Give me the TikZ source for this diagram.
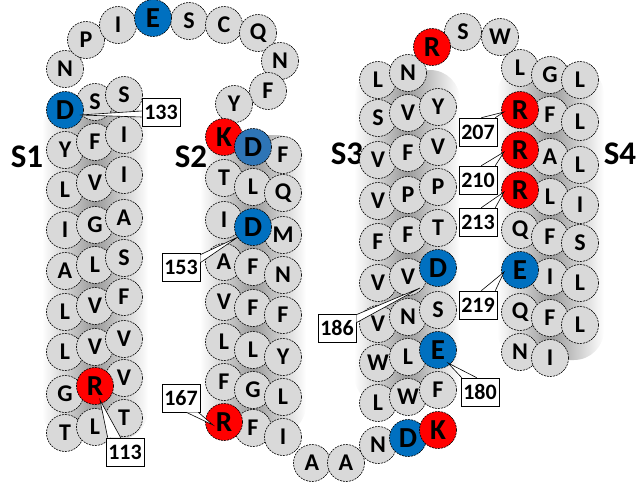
\documentclass[tikz,border=0pt]{standalone}
\usepackage{fontspec}
\setmainfont{Carlito}
\usetikzlibrary{calc}
\definecolor{resgray}{HTML}{D9D9D9}
\definecolor{resred}{HTML}{FF0000}
\definecolor{resblue}{HTML}{0070C0}
\definecolor{resbluelt}{HTML}{2E75B6}
\begin{document}
\begin{tikzpicture}[x=1pt, y=-1pt,
    res/.style={circle, draw, dash pattern=on 2pt off 1pt, line width=0.6pt, fill=resgray, minimum size=37pt, inner sep=0pt, font=\fontsize{24}{24}\selectfont\bfseries},
    acid/.style={res, fill=resblue, font=\fontsize{29}{29}\selectfont\bfseries},
    basic/.style={res, fill=resred, font=\fontsize{29}{29}\selectfont\bfseries},
    num/.style={draw, fill=white, line width=0.6pt, minimum width=38pt, minimum height=28pt, inner sep=0pt, font=\fontsize{22}{22}\selectfont\bfseries},
    callout/.style={draw, fill=white, line width=0.6pt},
    segment/.style={font=\fontsize{33}{33}\selectfont\bfseries},
    helix/.style={left color=white, right color=white, middle color=gray!80, rounded corners=30pt},
  ]
    \useasboundingbox (0,0) rectangle (638,485);
    \shade[helix] (42,100) rectangle (148,440);
    \shade[helix] (200,135) rectangle (306,435);
    \shade[helix] (354,70) rectangle (460,405);
    \shade[helix] (497,65) rectangle (604,360);

    \node[segment] (S1) at (27,157) {S1};
    \node[segment] (S2) at (191,157) {S2};
    \node[segment] (S3) at (347,154) {S3};
    \node[segment] (S4) at (620,154) {S4};

    % S1
    \node[res] (s1a2) at (65,150) {Y};   \node[res] (s1a3) at (65,190) {L};   \node[res] (s1a4) at (65,230) {I};
    \node[res] (s1a5) at (65,271) {A};   \node[res] (s1a6) at (65,312) {L};   \node[res] (s1a7) at (65,352) {L};
    \node[res] (s1a8) at (65,394) {G};   \node[res] (s1a9) at (65,433) {T};
    \node[res] (s1b1) at (95,102) {S};   \node[res] (s1b2) at (95,142) {F};   \node[res] (s1b3) at (95,183) {V};
    \node[res] (s1b4) at (95,225) {G};   \node[res] (s1b5) at (95,265) {L};   \node[res] (s1b6) at (95,306) {V};
    \node[res] (s1b7) at (95,347) {V};   \node[res] (s1b9) at (95,427) {L};
    \node[res] (s1c1) at (124,95) {S};   \node[res] (s1c2) at (124,135) {I};  \node[res] (s1c3) at (124,175) {I};
    \node[res] (s1c4) at (124,218) {A};  \node[res] (s1c5) at (124,258) {S};  \node[res] (s1c6) at (124,297) {F};
    \node[res] (s1c7) at (124,339) {V};  \node[res] (s1c8) at (124,378) {V};  \node[res] (s1c9) at (124,418) {T};
    \node[acid] (s1a1) at (65,110) {D};
    \node[basic] (s1b8) at (95,386) {R};

    % S1-S2 loop
    \node[res] (t1) at (65,69) {N};    \node[res] (t2) at (86,40) {P};    \node[res] (t3) at (118,25) {I};
    \node[res] (t5) at (189,21) {S};   \node[res] (t6) at (224,25) {C};   \node[res] (t7) at (258,33) {Q};
    \node[res] (t8) at (280,61) {N};   \node[res] (t9) at (268,91) {F};   \node[res] (t10) at (234,104) {Y};
    \node[acid] (t4) at (153,18) {E};

    % S2
    \node[res] (s2a2) at (224,178) {T};  \node[res] (s2a3) at (224,220) {I};  \node[res] (s2a4) at (224,262) {A};
    \node[res] (s2a5) at (224,302) {V};  \node[res] (s2a6) at (224,342) {L};  \node[res] (s2a7) at (224,382) {F};
    \node[res] (s2b2) at (253,187) {L};  \node[res] (s2b4) at (253,267) {F};  \node[res] (s2b5) at (253,308) {F};
    \node[res] (s2b6) at (253,350) {L};  \node[res] (s2b7) at (253,390) {G};  \node[res] (s2b8) at (253,428) {F};
    \node[res] (s2c1) at (283,155) {F};  \node[res] (s2c2) at (283,193) {Q};  \node[res] (s2c3) at (283,235) {M};
    \node[res] (s2c4) at (283,275) {N};  \node[res] (s2c5) at (283,315) {F};  \node[res] (s2c6) at (283,357) {Y};
    \node[res] (s2c7) at (283,397) {L};  \node[res] (s2c8) at (283,437) {I};
    \node[basic] (s2a1) at (224,137) {K};
    \node[acid, fill=resbluelt] (s2b1) at (253,147) {D};
    \node[acid] (s2b3) at (253,227) {D};
    \node[basic] (s2a8) at (224,422) {R};

    % S2-S3 loop
    \node[res] (u1) at (312,463) {A};  \node[res] (u2) at (346,463) {A};  \node[res] (u3) at (378,445) {N};
    \node[acid] (u4) at (408,438) {D};
    \node[basic] (u5) at (438,430) {K};

    % S3
    \node[res] (s3a1) at (378,80) {L};   \node[res] (s3a2) at (378,118) {S};  \node[res] (s3a3) at (378,160) {V};
    \node[res] (s3a4) at (378,201) {V};  \node[res] (s3a5) at (378,242) {F};  \node[res] (s3a6) at (378,283) {V};
    \node[res] (s3a7) at (378,324) {V};  \node[res] (s3a8) at (378,363) {W};  \node[res] (s3a9) at (378,403) {L};
    \node[res] (s3b1) at (408,73) {N};   \node[res] (s3b2) at (408,113) {V};  \node[res] (s3b3) at (408,153) {F};
    \node[res] (s3b4) at (408,195) {P};  \node[res] (s3b5) at (408,235) {F};  \node[res] (s3b6) at (408,277) {V};
    \node[res] (s3b7) at (408,317) {N};  \node[res] (s3b8) at (408,357) {L};  \node[res] (s3b9) at (408,397) {W};
    \node[res] (s3c1) at (438,107) {Y};  \node[res] (s3c2) at (438,147) {V};  \node[res] (s3c3) at (438,187) {P};
    \node[res] (s3c4) at (438,228) {T};  \node[res] (s3c6) at (438,310) {S};  \node[res] (s3c8) at (438,390) {F};
    \node[acid] (s3c5) at (438,268) {D};
    \node[acid] (s3c7) at (438,350) {E};

    % S3-S4 loop
    \node[res] (v2) at (463,32) {S};   \node[res] (v3) at (500,37) {W};
    \node[basic] (v1) at (432,47) {R};

    % S4
    \node[res] (s4a1) at (520,68) {L};   \node[res] (s4a5) at (520,230) {Q};  \node[res] (s4a7) at (520,312) {Q};
    \node[res] (s4a8) at (520,352) {N};
    \node[res] (s4b1) at (550,75) {G};   \node[res] (s4b2) at (550,115) {F};  \node[res] (s4b3) at (550,157) {A};
    \node[res] (s4b4) at (550,197) {L};  \node[res] (s4b5) at (550,237) {F};  \node[res] (s4b6) at (550,277) {I};
    \node[res] (s4b7) at (550,318) {F};  \node[res] (s4b8) at (550,358) {I};
    \node[res] (s4c1) at (580,80) {L};   \node[res] (s4c2) at (580,122) {L};  \node[res] (s4c3) at (580,165) {L};
    \node[res] (s4c4) at (580,205) {I};  \node[res] (s4c5) at (580,243) {S};  \node[res] (s4c6) at (580,283) {L};
    \node[res] (s4c7) at (580,325) {L};
    \node[basic] (s4a2) at (520,110) {R};
    \node[basic] (s4a3) at (520,150) {R};
    \node[basic] (s4a4) at (520,190) {R};
    \node[acid] (s4a6) at (520,270) {E};

    % residue numbers
    \node[num] (n133) at (161,112) {133};
    \node[num] (n113) at (125,452) {113};
    \node[num] (n153) at (181,267) {153};
    \node[num] (n167) at (181,398) {167};
    \node[num] (n186) at (337,328) {186};
    \node[num] (n180) at (480,392) {180};
    \node[num] (n207) at (478,132) {207};
    \node[num] (n210) at (478,180) {210};
    \node[num] (n213) at (478,222) {213};
    \node[num] (n219) at (478,305) {219};

    \draw[callout] ($(n133.west)+(0,-1)$) -- ($(s1a1)+(15,5)$) -- ($(n133.west)+(0,5)$);
    \draw[callout] ($(n113.north west)+(2,0)$) -- ($(s1b8)+(5,14)$) -- ($(n113.north west)+(15,0)$);
    \draw[callout] ($(n153.north east)+(0,2)$) -- ($(s2b3)+(-15,10)$) -- ($(n153.north east)+(0,10)$);
    \draw[callout] ($(n167.south east)+(-14,0)$) -- ($(s2a8)+(-11,3)$) -- ($(n167.south east)+(-2,0)$);
    \draw[callout] ($(n186.north east)+(0,1)$) -- ($(s3c5)+(-18,20)$) -- ($(n186.north east)+(0,9)$);
    \draw[callout] ($(n180.north west)+(1,0)$) -- ($(s3c7)+(10,13)$) -- ($(n180.north west)+(16,0)$);
    \draw[callout] ($(n207.north east)+(-16,0)$) -- ($(s4a2)+(-16,2)$) -- ($(n207.north east)+(-2,0)$);
    \draw[callout] ($(n210.north east)+(-16,0)$) -- ($(s4a3)+(-16,2)$) -- ($(n210.north east)+(-2,0)$);
    \draw[callout] ($(n213.north east)+(-16,0)$) -- ($(s4a4)+(-16,2)$) -- ($(n213.north east)+(-2,0)$);
    \draw[callout] ($(n219.north east)+(-16,0)$) -- ($(s4a6)+(-16,2)$) -- ($(n219.north east)+(-2,0)$);
  \end{tikzpicture}
\end{document}
